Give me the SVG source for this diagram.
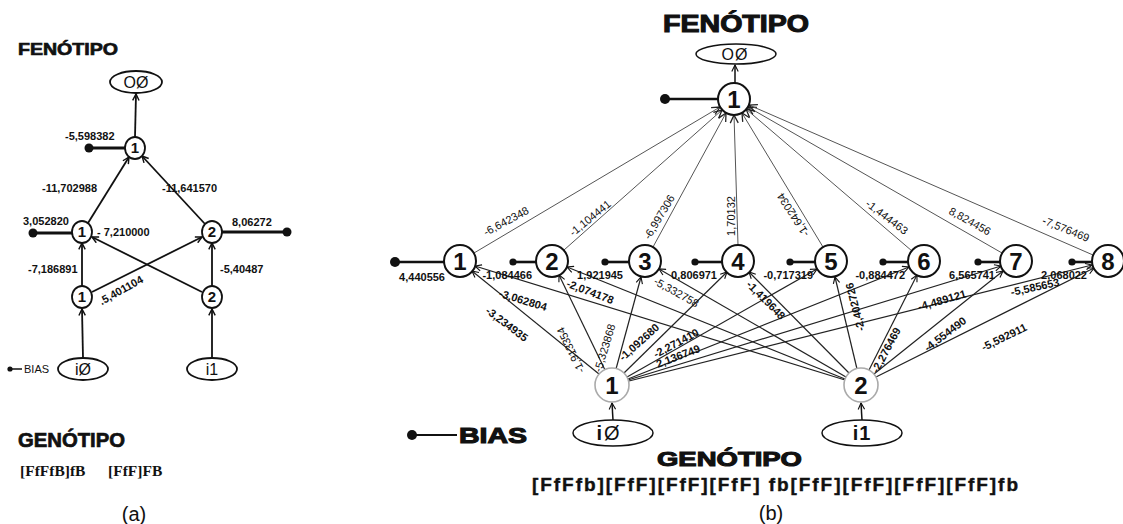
<svg xmlns="http://www.w3.org/2000/svg" width="1123" height="524" viewBox="0 0 1123 524">
<style>
  text{font-family:"Liberation Sans",Arial,sans-serif;fill:#111}
  .ttl{font-weight:bold;stroke:#111;stroke-width:0.7}
  .ttlB{font-weight:bold;stroke:#111;stroke-width:1.1}
  .lbA{font-size:11px;font-weight:bold}
  .numA{font-size:15px;font-weight:bold;text-anchor:middle}
  .nodeA{fill:#fff;stroke:#111;stroke-width:1.8}
  .wireA{fill:none;stroke:#111;stroke-width:1.8;marker-end:url(#chevA)}
  .biasA{stroke:#111;stroke-width:3}
  .nodeB{fill:#fff;stroke:#111;stroke-width:2}
  .nodeI{fill:#fff;stroke:#aaa;stroke-width:1.6}
  .numB{font-size:24px;font-weight:bold;text-anchor:middle}
  .ho{fill:none;stroke:#555;stroke-width:1;marker-end:url(#chevB)}
  .ih{fill:none;stroke:#222;stroke-width:1.2;marker-end:url(#chevC)}
  .biasB{stroke:#111;stroke-width:2.6}
  .bl{font-size:11px;font-weight:bold;text-anchor:end}
  .wl{font-size:11px;text-anchor:middle}
  .wb{font-size:11px;font-weight:bold;text-anchor:middle}
  .serif{font-family:"Liberation Serif","Times New Roman",serif;font-weight:bold}
</style>
<defs>
  <marker id="chevA" viewBox="0 0 10 10" refX="9" refY="5" markerWidth="8" markerHeight="8" markerUnits="userSpaceOnUse" orient="auto">
    <path d="M1,1 L9,5 L1,9" fill="none" stroke="#111" stroke-width="1.8"/>
  </marker>
  <marker id="chevB" viewBox="0 0 10 10" refX="9" refY="5" markerWidth="10" markerHeight="10" markerUnits="userSpaceOnUse" orient="auto">
    <path d="M1,1 L9,5 L1,9" fill="none" stroke="#222" stroke-width="1.3"/>
  </marker>
  <marker id="chevC" viewBox="0 0 10 10" refX="9" refY="5" markerWidth="8" markerHeight="8" markerUnits="userSpaceOnUse" orient="auto">
    <path d="M1,1 L9,5 L1,9" fill="none" stroke="#111" stroke-width="1.4"/>
  </marker>
</defs>
<rect width="1123" height="524" fill="#fff"/>

<!-- ===== Panel (a): small network ===== -->
<text class="ttl" x="18" y="55" font-size="17" textLength="100" lengthAdjust="spacingAndGlyphs">FENÓTIPO</text>

<g id="a-connectors">
  <line class="wireA" x1="135" y1="137" x2="136" y2="94"/>
  <line class="wireA" x1="88" y1="223" x2="129" y2="157"/>
  <line class="wireA" x1="205" y1="224" x2="142" y2="156"/>
  <line class="wireA" x1="82" y1="286" x2="82" y2="243"/>
  <line class="wireA" x1="92" y1="292" x2="202" y2="237"/>
  <line class="wireA" x1="202" y1="292" x2="92" y2="237"/>
  <line class="wireA" x1="212" y1="286" x2="212" y2="243"/>
  <line class="wireA" x1="83" y1="358" x2="82" y2="309"/>
  <line class="wireA" x1="212" y1="358" x2="212" y2="309"/>
</g>

<g id="a-out">
  <ellipse cx="136" cy="82" rx="26" ry="11" class="nodeA"/>
  <text x="136" y="88" font-size="16" text-anchor="middle">OØ</text>
</g>
<g id="a-o1">
  <line class="biasA" x1="89" y1="148" x2="125" y2="148"/>
  <circle cx="89" cy="148" r="4.5" fill="#111"/>
  <ellipse cx="135" cy="148" rx="10" ry="11" class="nodeA"/>
  <text class="numA" x="135" y="153">1</text>
  <text class="lbA" x="65" y="140">-5,598382</text>
</g>
<g id="a-h1">
  <line class="biasA" x1="33" y1="233" x2="72" y2="233"/>
  <circle cx="33" cy="233" r="4.5" fill="#111"/>
  <ellipse cx="82" cy="232" rx="10" ry="11" class="nodeA"/>
  <text class="numA" x="82" y="237">1</text>
  <text class="lbA" x="23" y="225">3,052820</text>
</g>
<g id="a-h2">
  <line class="biasA" x1="222" y1="232" x2="287" y2="232"/>
  <circle cx="287" cy="232" r="4.5" fill="#111"/>
  <ellipse cx="212" cy="232" rx="10" ry="11" class="nodeA"/>
  <text class="numA" x="212" y="237">2</text>
  <text class="lbA" x="232" y="226">8,06272</text>
</g>
<g id="a-i1">
  <ellipse cx="82" cy="297" rx="10" ry="11" class="nodeA"/>
  <text class="numA" x="82" y="302">1</text>
</g>
<g id="a-i2">
  <ellipse cx="212" cy="297" rx="10" ry="11" class="nodeA"/>
  <text class="numA" x="212" y="302">2</text>
</g>
<g id="a-in0">
  <ellipse cx="83" cy="369" rx="25" ry="11" class="nodeA"/>
  <text x="83" y="375" font-size="16" text-anchor="middle">iØ</text>
</g>
<g id="a-in1">
  <ellipse cx="212" cy="369" rx="25" ry="11" class="nodeA"/>
  <text x="212" y="375" font-size="16" text-anchor="middle">i1</text>
</g>
<g id="a-bias">
  <line x1="10" y1="369" x2="22" y2="369" stroke="#111" stroke-width="1.5"/>
  <circle cx="10" cy="369" r="2.6" fill="#111"/>
  <text x="24" y="373" font-size="11">BIAS</text>
</g>

<g id="a-weights">
  <text class="lbA" x="42" y="192">-11,702988</text>
  <text class="lbA" x="162" y="192">-11,641570</text>
  <text class="lbA" x="97" y="236">- 7,210000</text>
  <text class="lbA" x="28" y="273">-7,186891</text>
  <text class="lbA" x="220" y="273">-5,40487</text>
  <text class="lbA" transform="translate(121,290) rotate(-29)" x="0" y="4" text-anchor="middle">.5,401104</text>
</g>

<text class="ttl" x="18" y="447" font-size="20" textLength="107" lengthAdjust="spacingAndGlyphs">GENÓTIPO</text>
<text class="serif" x="20" y="476" font-size="15.5">[FfFfB]fB</text>
<text class="serif" x="108" y="476" font-size="15.5">[FfF]FB</text>
<text x="134" y="521" font-size="20" text-anchor="middle">(a)</text>

<!-- ===== Panel (b): full network ===== -->
<text class="ttlB" x="663" y="32" font-size="24" textLength="146" lengthAdjust="spacingAndGlyphs">FENÓTIPO</text>

<g id="b-connectors">
  <!-- output node to phenotype -->
  <line x1="735" y1="83" x2="735" y2="65" stroke="#111" stroke-width="1.5" marker-end="url(#chevC)"/>
  <!-- hidden layer to output -->
  <line class="ho" x1="474" y1="253" x2="720" y2="107"/>
  <line class="ho" x1="564" y1="250" x2="722" y2="110"/>
  <line class="ho" x1="653" y1="247" x2="726" y2="113"/>
  <line class="ho" x1="738" y1="245" x2="734" y2="115"/>
  <line class="ho" x1="823" y1="247" x2="742" y2="113"/>
  <line class="ho" x1="912" y1="251" x2="746" y2="109"/>
  <line class="ho" x1="1002" y1="253" x2="748" y2="107"/>
  <line class="ho" x1="1093" y1="255" x2="749" y2="105" stroke="#111" stroke-width="1.8"/>
  <!-- input 1 to hidden layer -->
  <line class="ih" x1="599" y1="374" x2="472" y2="271"/>
  <line class="ih" x1="605" y1="370" x2="559" y2="275"/>
  <line class="ih" x1="616" y1="369" x2="641" y2="277"/>
  <line class="ih" x1="624" y1="373" x2="727" y2="272"/>
  <line class="ih" x1="627" y1="377" x2="817" y2="269"/>
  <line class="ih" x1="628" y1="379" x2="909" y2="267"/>
  <line class="ih" x1="628" y1="380" x2="1001" y2="266"/>
  <line class="ih" x1="629" y1="381" x2="1092" y2="265"/>
  <!-- input 2 to hidden layer -->
  <line class="ih" x1="845" y1="380" x2="475" y2="266"/>
  <line class="ih" x1="845" y1="379" x2="567" y2="267"/>
  <line class="ih" x1="846" y1="377" x2="659" y2="269"/>
  <line class="ih" x1="849" y1="373" x2="749" y2="272"/>
  <line class="ih" x1="857" y1="369" x2="835" y2="277"/>
  <line class="ih" x1="869" y1="370" x2="917" y2="275"/>
  <line class="ih" x1="874" y1="374" x2="1003" y2="271"/>
  <line class="ih" x1="876" y1="377" x2="1094" y2="268"/>
  <!-- genotype inputs to input nodes -->
  <line x1="613" y1="420" x2="612" y2="403" stroke="#111" stroke-width="1.5" marker-end="url(#chevC)"/>
  <line x1="862" y1="420" x2="861" y2="403" stroke="#111" stroke-width="1.5" marker-end="url(#chevC)"/>
</g>

<g id="b-out">
  <ellipse cx="736" cy="54" rx="40" ry="10" fill="#fff" stroke="#111" stroke-width="1.5"/>
  <text x="735" y="60" font-size="16" text-anchor="middle" letter-spacing="1">OØ</text>
</g>
<g id="b-o1">
  <line class="biasB" x1="665" y1="99" x2="718" y2="99" stroke-width="3"/>
  <circle cx="665" cy="99" r="5" fill="#111"/>
  <circle cx="734" cy="99" r="16" class="nodeB"/>
  <text class="numB" x="734" y="108">1</text>
</g>

<g id="b-h1">
  <line class="biasB" x1="395" y1="262" x2="444" y2="262" stroke-width="3"/>
  <circle cx="395" cy="262" r="5" fill="#111"/>
  <circle cx="460" cy="261" r="16" class="nodeB"/>
  <text class="numB" x="460" y="270">1</text>
  <text class="bl" x="445" y="281">4,440556</text>
</g>
<g id="b-h2">
  <line class="biasB" x1="513" y1="262" x2="536" y2="262"/>
  <circle cx="513" cy="262" r="3.6" fill="#111"/>
  <circle cx="552" cy="261" r="16" class="nodeB"/>
  <text class="numB" x="552" y="270">2</text>
  <text class="bl" x="532" y="279">-1,084466</text>
</g>
<g id="b-h3">
  <line class="biasB" x1="605" y1="262" x2="629" y2="262"/>
  <circle cx="605" cy="262" r="3.6" fill="#111"/>
  <circle cx="645" cy="261" r="16" class="nodeB"/>
  <text class="numB" x="645" y="270">3</text>
  <text class="bl" x="623" y="279">1,921945</text>
</g>
<g id="b-h4">
  <line class="biasB" x1="695" y1="262" x2="722" y2="262"/>
  <circle cx="695" cy="262" r="3.6" fill="#111"/>
  <circle cx="738" cy="261" r="16" class="nodeB"/>
  <text class="numB" x="738" y="270">4</text>
  <text class="bl" x="717" y="279">0,806971</text>
</g>
<g id="b-h5">
  <line class="biasB" x1="790" y1="262" x2="815" y2="262"/>
  <circle cx="790" cy="262" r="3.6" fill="#111"/>
  <circle cx="831" cy="261" r="16" class="nodeB"/>
  <text class="numB" x="831" y="270">5</text>
  <text class="bl" x="813" y="279">-0,717319</text>
</g>
<g id="b-h6">
  <line class="biasB" x1="883" y1="262" x2="908" y2="262"/>
  <circle cx="883" cy="262" r="3.6" fill="#111"/>
  <circle cx="924" cy="261" r="16" class="nodeB"/>
  <text class="numB" x="924" y="270">6</text>
  <text class="bl" x="905" y="279">-0,884472</text>
</g>
<g id="b-h7">
  <line class="biasB" x1="978" y1="262" x2="1000" y2="262"/>
  <circle cx="978" cy="262" r="3.6" fill="#111"/>
  <circle cx="1016" cy="261" r="16" class="nodeB"/>
  <text class="numB" x="1016" y="270">7</text>
  <text class="bl" x="995" y="279">6,565741</text>
</g>
<g id="b-h8">
  <line class="biasB" x1="1072" y1="262" x2="1092" y2="262"/>
  <circle cx="1072" cy="262" r="3.6" fill="#111"/>
  <circle cx="1108" cy="261" r="16" class="nodeB"/>
  <text class="numB" x="1108" y="270">8</text>
  <text class="bl" x="1087" y="279">2,068022</text>
</g>

<g id="b-i1">
  <circle cx="612" cy="385" r="17" class="nodeI"/>
  <text class="numB" x="612" y="394">1</text>
</g>
<g id="b-i2">
  <circle cx="861" cy="385" r="17" class="nodeI"/>
  <text class="numB" x="861" y="394">2</text>
</g>
<g id="b-in0">
  <ellipse cx="613" cy="433" rx="40" ry="13" fill="#fff" stroke="#111" stroke-width="1.5"/>
  <text x="608" y="440" font-size="20" text-anchor="middle"><tspan font-weight="bold">i</tspan><tspan dx="2">Ø</tspan></text>
</g>
<g id="b-in1">
  <ellipse cx="862" cy="433" rx="40" ry="13" fill="#fff" stroke="#111" stroke-width="1.5"/>
  <text x="862" y="440" font-size="20" font-weight="bold" text-anchor="middle" letter-spacing="1">i1</text>
</g>
<g id="b-bias">
  <line x1="412" y1="435" x2="457" y2="435" stroke="#111" stroke-width="2.2"/>
  <circle cx="412" cy="435" r="5" fill="#111"/>
  <text class="ttlB" x="459" y="443" font-size="22" textLength="68" lengthAdjust="spacingAndGlyphs">BIAS</text>
</g>

<!-- weights, hidden layer to output -->
<g id="b-weights-ho">
  <text class="wl" transform="translate(506,221) rotate(-28)" y="4">-6,642348</text>
  <text class="wl" transform="translate(590,218) rotate(-39)" y="4">-1,104441</text>
  <text class="wl" transform="translate(659,217) rotate(-59)" y="4">-6,997306</text>
  <text class="wl" transform="translate(731,216) rotate(-90)" y="4">1,70132</text>
  <text class="wl" transform="translate(793,215) rotate(-123)" y="4">-1,642034</text>
  <text class="wl" transform="translate(887,217) rotate(37)" y="4">-1,444463</text>
  <text class="wl" transform="translate(970,221) rotate(29)" y="4">8,824456</text>
  <text class="wl" transform="translate(1066,229) rotate(22)" y="4">-7,576469</text>
</g>
<!-- weights, input layer to hidden layer -->
<g id="b-weights-ih">
  <text class="wb" transform="translate(507,324) rotate(37)" y="4">-3,234935</text>
  <text class="wl" transform="translate(571,350) rotate(-116)" y="3.5" font-size="10">-1,913354</text>
  <text class="wl" transform="translate(605,348) rotate(-73)" y="3.5" font-size="10">-5,323868</text>
  <text class="wb" transform="translate(639,342) rotate(-42)" y="4">-1,092680</text>
  <text class="wb" transform="translate(676,343) rotate(-28)" y="4">-2,271410</text>
  <text class="wb" transform="translate(678,356) rotate(-21)" y="4">2,136749</text>
  <text class="wb" transform="translate(942,300) rotate(-16)" y="4">-4,489121</text>
  <text class="wb" transform="translate(1035,287) rotate(-12)" y="4">-5,585653</text>
  <text class="wb" transform="translate(523,300) rotate(17)" y="4">-3,062804</text>
  <text class="wb" transform="translate(590,292) rotate(21)" y="3.5" font-size="9.5">-2,074178</text>
  <text class="wl" transform="translate(676,293) rotate(29)" y="3" font-size="8.5">-5,332758</text>
  <text class="wb" transform="translate(766,300) rotate(45)" y="4">-1,419648</text>
  <text class="wb" transform="translate(855,307) rotate(-104)" y="4">-2,402726</text>
  <text class="wb" transform="translate(886,350) rotate(-62)" y="4">-2,276469</text>
  <text class="wb" transform="translate(945,334) rotate(-37)" y="4">-4,554490</text>
  <text class="wb" transform="translate(1004,337) rotate(-26)" y="4">-5,592911</text>
</g>

<text class="ttlB" x="657" y="466" font-size="21" textLength="145" lengthAdjust="spacingAndGlyphs">GENÓTIPO</text>
<text x="532" y="491" font-size="19" font-weight="bold" stroke="#111" stroke-width="0.4" textLength="486" lengthAdjust="spacing">[FfFfb][FfF][FfF][FfF] fb[FfF][FfF][FfF][FfF]fb</text>
<text x="771" y="520" font-size="20" text-anchor="middle">(b)</text>
</svg>
